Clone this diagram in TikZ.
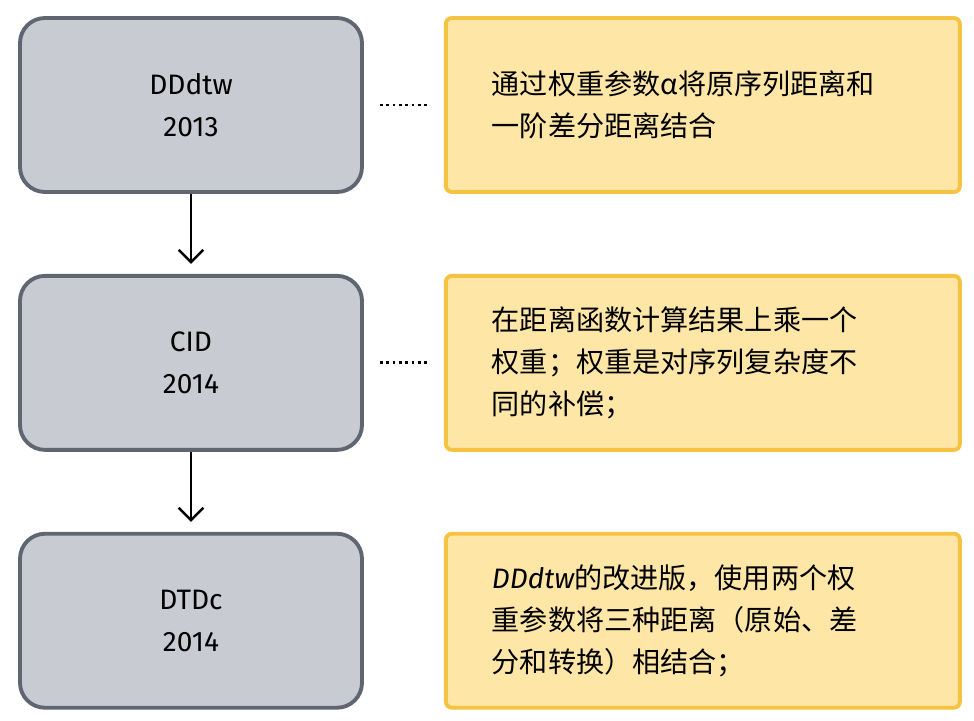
\documentclass[tikz,border=0pt]{standalone}
\usepackage{fontspec}
\setmainfont{Fira Sans}
\newfontfamily\cjk{Noto Sans CJK SC}
\usetikzlibrary{positioning,arrows.meta}

\definecolor{methodfill}{HTML}{C9CBD3}
\definecolor{methodline}{HTML}{5F6672}
\definecolor{notefill}{HTML}{FDE6A6}
\definecolor{noteline}{HTML}{F5C242}

\tikzset{
  method/.style={draw=methodline, fill=methodfill, line width=2.2pt, rounded corners=0.5cm,
    minimum width=6.84cm, minimum height=3.48cm, align=center, font=\fontsize{16}{24}\selectfont},
  note/.style={draw=noteline, fill=notefill, line width=2.2pt, rounded corners=0.12cm,
    minimum width=10.28cm, minimum height=3.48cm, inner xsep=0.92cm, text width=8.44cm,
    align=left, font=\fontsize{16}{24}\cjk},
  link/.style={line width=1.6pt, dotted, shorten <=0.32cm, shorten >=0.32cm},
  nextstep/.style={line width=1.4pt, -{Straight Barb[length=7pt,width=14pt]}, shorten >=0.2cm}
}

\begin{document}
\begin{tikzpicture}[node distance=1.6cm]
\useasboundingbox (0,0) rectangle (19.48,-14.4);

\node[method] (ddtw) at (3.82,-2.1) {DDdtw\\2013};
\node[method, below=of ddtw] (cid) {CID\\2014};
\node[method, below=of cid] (dtdc) {DTDc\\2014};

\node[note, right=of ddtw] (ddtwnote) {通过权重参数\textit{α}将原序列距离和\\一阶差分距离结合};
\node[note, right=of cid] (cidnote) {在距离函数计算结果上乘一个\\权重；权重是对序列复杂度不\\同的补偿；};
\node[note, right=of dtdc] (dtdcnote) {{\fontspec{Fira Sans}\itshape DDdtw}的改进版，使用两个权\\重参数将三种距离（原始、差\\分和转换）相结合；};

\draw[nextstep] (ddtw) -- (cid);
\draw[nextstep] (cid) -- (dtdc);

\draw[link] (ddtw) -- (ddtwnote);
\draw[link] (cid) -- (cidnote);

\end{tikzpicture}
\end{document}
